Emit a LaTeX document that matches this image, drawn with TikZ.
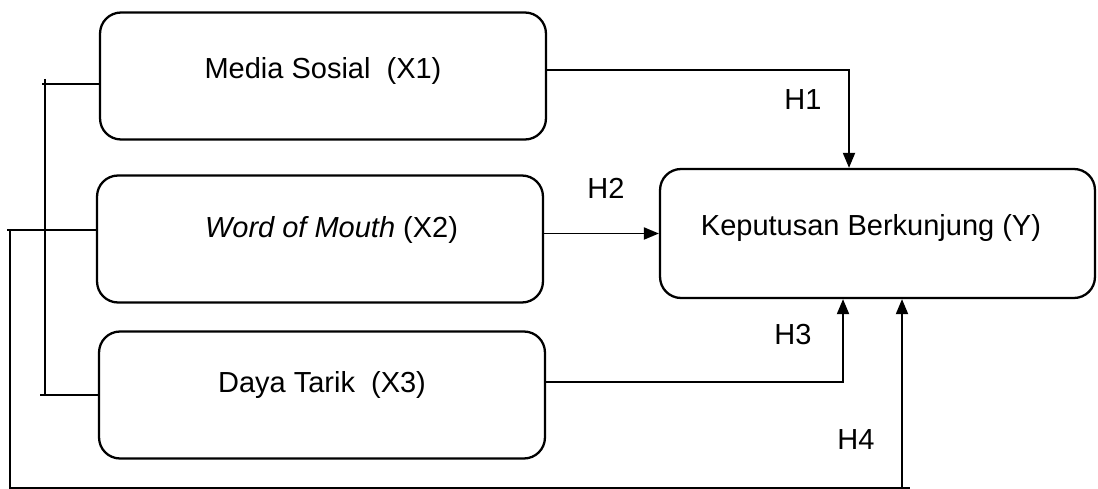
\documentclass[tikz,border=0pt]{standalone}
\usepackage{fontspec}
\setmainfont{Liberation Sans}
\usetikzlibrary{arrows.meta, positioning}

\begin{document}
\begin{tikzpicture}[
    x=0.02cm, y=-0.02cm,
    every node/.style={font=\fontsize{16.5}{19}\selectfont},
    box/.style={draw, line width=1.3pt, rounded corners=0.42cm, minimum width=8.92cm, minimum height=2.54cm, text depth=0.34cm},
    line/.style={line width=1.1pt},
    arr/.style={line width=1.1pt, -{Triangle[length=0.3cm, width=0.24cm]}}
  ]
  \useasboundingbox (0,0) rectangle (1098,489);

  % Kotak variabel
  \node[box] (x1) at (323,76) {Media Sosial~~(X1)};
  \node[box, text depth=0.5cm] (x2) at (320,239) {\hspace*{0.46cm}\textit{Word of Mouth} (X2)};
  \node[box, text depth=0.52cm] (x3) at (322,395) {Daya Tarik~~(X3)};
  \node[box, minimum width=8.7cm, minimum height=2.58cm] (y) at (877.5,233.5) {Keputusan Berkunjung (Y)\hspace*{0.26cm}};

  % Label hipotesis
  \node (h1) at (803,100) {H1};
  \node (h2) at (606,188) {H2};
  \node (h3) at (793,335) {H3};
  \node (h4) at (856,440) {H4};

  % Panah parsial
  \draw[arr] ([yshift=0.12cm]x1.east) -| ([xshift=-0.57cm]y.north);
  \draw[arr] (x2.east |- y.west) -- (y.west);
  \draw[arr] ([yshift=0.26cm]x3.east) -| ([xshift=-0.69cm]y.south);

  % Garis simultan
  \draw[line] (42,84) -- ([yshift=-0.16cm]x1.west);
  \draw[line] (45,79) -- (45,395);
  \draw[line] (40,395) -- (x3.west);
  \draw[line] (7,230) -- ([yshift=0.18cm]x2.west);
  \draw[line] (10,230) -- (10,488) -- (910,488);
  \draw[arr] (902,488) -- ([xshift=0.49cm]y.south);

\end{tikzpicture}
\end{document}
